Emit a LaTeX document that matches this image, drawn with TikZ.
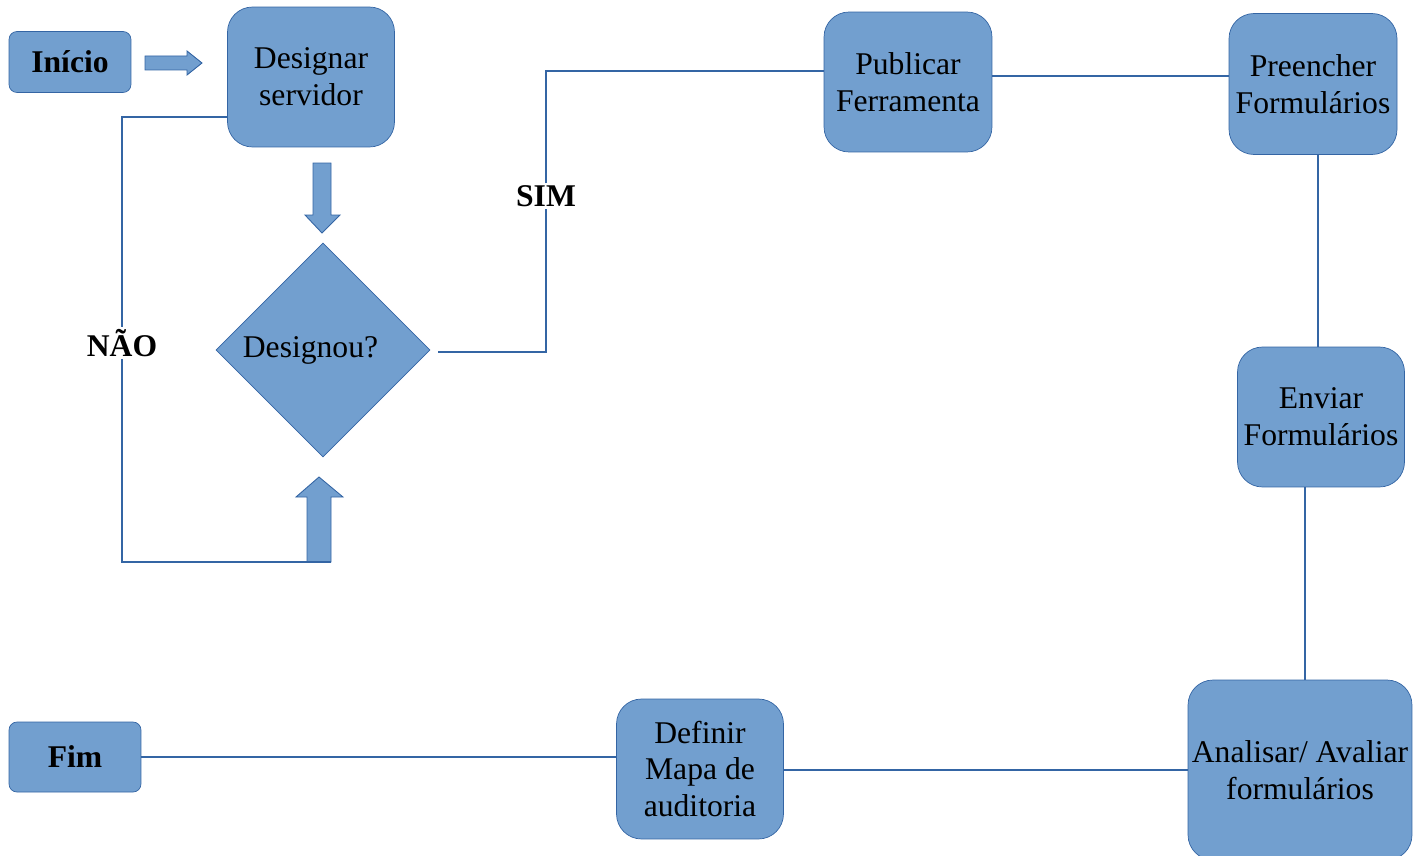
\documentclass[tikz,border=0pt]{standalone}
\usepackage{fontspec}
\setmainfont{Liberation Serif}
\usetikzlibrary{shapes.geometric}

\definecolor{boxfill}{HTML}{729FCF}
\definecolor{boxline}{HTML}{3465A4}

\tikzset{
  proc/.style={draw=boxline, fill=boxfill, rounded corners=0.5cm, align=center,
    inner sep=1pt, minimum width=3.34cm, minimum height=2.8cm,
    font=\fontsize{18}{21}\selectfont},
  term/.style={draw=boxline, fill=boxfill, rounded corners=0.16cm, inner sep=1pt,
    font=\fontsize{18}{21}\selectfont\bfseries},
  decision/.style={diamond, draw=boxline, fill=boxfill, aspect=1, inner sep=0pt,
    minimum width=4.28cm, minimum height=4.28cm, font=\fontsize{18}{21}\selectfont},
  link/.style={draw=boxline, line width=0.8pt},
  blockarrow/.style={draw=boxline, fill=boxfill, line width=0.5pt},
  answer/.style={inner sep=1pt, font=\fontsize{18}{21}\selectfont\bfseries}
}

\begin{document}
\begin{tikzpicture}[x=0.02cm, y=-0.02cm]
  \useasboundingbox (0,0) rectangle (1426,855);

  % boxes
  \node[term, minimum width=2.44cm, minimum height=1.22cm] (inicio) at (70,62) {Início};
  \node[proc] (des) at (311,77) {Designar\\servidor};
  \node[decision] (dia) at (323,350) {\raisebox{-0.1cm}{Designou?\hspace{0.5cm}}};
  \node[proc, minimum width=3.36cm] (pub) at (908,82) {Publicar\\Ferramenta};
  \node[proc, minimum width=3.36cm, minimum height=2.82cm] (pre) at (1313,84) {Preencher\\Formulários};
  \node[proc] (env) at (1321,417) {Enviar\\Formulários};
  \node[proc, minimum width=4.48cm, minimum height=3.6cm] (ana) at (1300,770) {Analisar/ Avaliar\\formulários};
  \node[proc] (def) at (700,769) {Definir\\Mapa de\\auditoria};
  \node[term, minimum width=2.64cm, minimum height=1.4cm] (fim) at (75,757) {Fim};

  % labels
  \node[answer] (nao) at (122,343) {NÃO};
  \node[answer] (sim) at (546,196) {SIM};

  % block arrows
  \draw[blockarrow] (145,56) -- (187,56) -- (187,51) -- (202,63) -- (187,75) -- (187,70) -- (145,70) -- cycle;
  \draw[blockarrow] (313,163) -- (331,163) -- (331,215) -- (340,215) -- (322,233) -- (305,215) -- (313,215) -- cycle;
  \draw[blockarrow] (307,562) -- (307,497) -- (296,497) -- (319,477) -- (343,497) -- (331,497) -- (331,562) -- cycle;
  \coordinate (upfoot) at (331,562);

  % connectors
  \draw[link] ([yshift=-0.8cm]des.west) -| (nao.north);
  \draw[link] (nao.south) |- (upfoot);
  \draw[link] ([xshift=0.16cm,yshift=-0.04cm]dia.east) -| (sim.south);
  \draw[link] (sim.north) |- ([yshift=0.22cm]pub.west);
  \draw[link] ([yshift=0.12cm]pub.east) -- ([yshift=0.12cm]pub.east -| pre.west);
  \draw[link] ([xshift=0.1cm]pre.south) -- ([xshift=0.1cm]pre.south |- env.north);
  \draw[link] ([xshift=0.1cm]ana.north) -- ([xshift=0.1cm]ana.north |- env.south);
  \draw[link] (ana.west) -- (ana.west -| def.east);
  \draw[link] (fim.east) -- (fim.east -| def.west);
\end{tikzpicture}
\end{document}
